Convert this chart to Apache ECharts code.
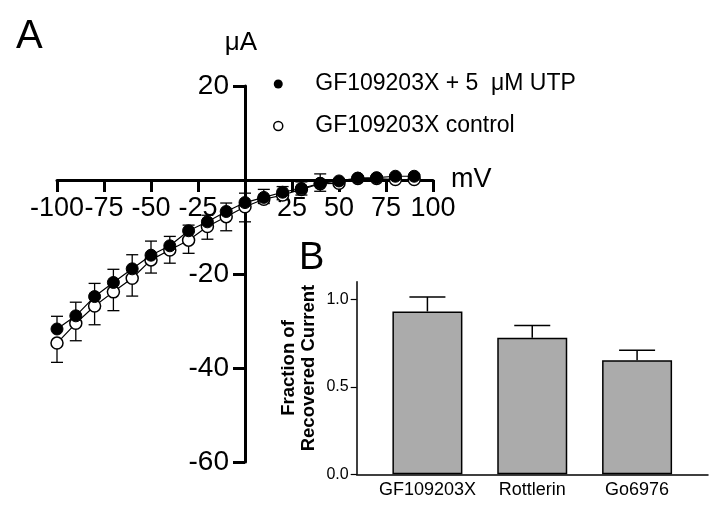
<!DOCTYPE html>
<html>
<head>
<meta charset="utf-8">
<script src="https://cdn.jsdelivr.net/npm/echarts@6/dist/echarts.min.js"></script>
<style>
html,body{margin:0;padding:0;background:#fff;}
#chart{width:720px;height:514px;}
</style>
</head>
<body>
<div id="chart"></div>
<script>
// Panel A: I-V relation
const voltages = [-100,-90,-80,-70,-60,-50,-40,-30,-20,-10,0,10,20,30,40,50,60,70,80,90];
const utpCurrent = [-31.7,-28.9,-24.8,-21.8,-18.9,-16.0,-14.0,-10.8,-8.9,-6.7,-4.8,-3.7,-2.6,-1.8,-0.7,-0.2,0.4,0.5,0.8,0.8];
const utpErr = [2.7,2.9,2.8,2.8,3.0,3.0,2.0,1.2,1.4,1.8,2.0,1.7,1.2,1.4,2.0,0.4,0.3,0.3,0.3,0.3];
const ctrlCurrent = [-34.7,-30.5,-26.8,-23.8,-20.9,-17.0,-14.9,-12.8,-9.9,-7.8,-5.7,-4.1,-3.2,-2.0,-0.8,-0.7,0.3,0.3,0.1,0.1];
const ctrlErr = [4.1,3.7,4.0,4.0,3.8,2.8,2.8,2.8,2.7,3.0,3.2,0.9,1.0,1.2,1.6,0.3,0.3,0.3,0.3,0.3];
const seriesNames = ['GF109203X + 5  \u03bcM UTP', 'GF109203X control'];
const xTicksA = [-100,-75,-50,-25,0,25,50,75,100];
const yTicksA = [-60,-40,-20,0,20];

// Panel B: recovered current
const categoriesB = ['GF109203X', 'Rottlerin', 'Go6976'];
const fractionB = [0.93, 0.78, 0.652];
const fractionErrB = [0.083, 0.07, 0.057];
const yTicksB = [0, 0.5, 1.0];

const chart = echarts.init(document.getElementById('chart'), null, {renderer: 'canvas'});
const FONT = 'Liberation Sans, Arial, sans-serif';

// Panel A grid geometry (axes cross at the origin)
const gridA = {left: 57, right: 287, top: 86, bottom: 52};
const wA = 720 - gridA.left - gridA.right, hA = 514 - gridA.top - gridA.bottom;
const xOffsetToZero = -(hA * (0 - (-60)) / (20 - (-60)));   // move x axis up to y=0
const yOffsetToZero = -(wA * (0 - (-100)) / (100 - (-100))); // move y axis right to x=0

function errRender(dir, halfWidth, lw) {
  return function (params, api) {
    const x = api.value(0), y = api.value(1), e = api.value(2);
    const p0 = api.coord([x, y]);
    const p1 = api.coord([x, y + dir * e]);
    const st = {stroke: '#000', lineWidth: lw};
    return {
      type: 'group',
      children: [
        {type: 'line', shape: {x1: p0[0], y1: p0[1], x2: p1[0], y2: p1[1]}, style: st},
        {type: 'line', shape: {x1: p1[0] - halfWidth, y1: p1[1], x2: p1[0] + halfWidth, y2: p1[1]}, style: st}
      ]
    };
  };
}

const option = {
  backgroundColor: '#fff',
  animation: false,
  textStyle: {fontFamily: FONT, color: '#000'},
  graphic: [
    {type: 'text', left: 16, top: 17, style: {text: 'A', font: '40px ' + FONT, fill: '#000'}},
    {type: 'text', left: 299, top: 240, style: {text: 'B', font: '38px ' + FONT, fill: '#000'}}
  ],
  legend: {
    left: 268, top: 67, orient: 'vertical',
    itemWidth: 64, itemHeight: 9, itemGap: 18,
    selectedMode: false,
    textStyle: {fontSize: 23, lineHeight: 24, fontFamily: FONT, color: '#000'},
    data: [
      {name: seriesNames[0], icon: 'circle', itemStyle: {color: '#000', borderWidth: 0}},
      {name: seriesNames[1], icon: 'circle', itemStyle: {color: '#fff', borderColor: '#000', borderWidth: 1.5}}
    ]
  },
  grid: [
    gridA,
    {left: 356.7, right: 12, top: 281.7, bottom: 39.7},
    {left: 375, right: 30.5, top: 281.7, bottom: 39.7}
  ],
  xAxis: [
    {
      gridIndex: 0, type: 'value', min: -100, max: 100, interval: 25,
      position: 'bottom', offset: xOffsetToZero,
      name: 'mV', nameLocation: 'end', nameGap: 18,
      nameTextStyle: {fontSize: 27, fontFamily: FONT, color: '#000', padding: [0, 0, 14, 0]},
      axisLine: {onZero: false, lineStyle: {color: '#000', width: 3}},
      axisTick: {show: true, length: 12, lineStyle: {color: '#000', width: 3}},
      axisLabel: {
        fontSize: 27, fontFamily: FONT, color: '#000', margin: 15, hideOverlap: false,
        formatter: v => (v === 0 ? '' : String(v))
      },
      splitLine: {show: false}
    },
    {
      gridIndex: 1, type: 'value', min: 0, max: 1,
      axisLine: {onZero: false, lineStyle: {color: '#000', width: 1.5}},
      axisTick: {show: false}, axisLabel: {show: false}, splitLine: {show: false}
    },
    {
      gridIndex: 2, type: 'category', data: categoriesB,
      axisLine: {show: false}, axisTick: {show: false},
      axisLabel: {fontSize: 18, fontFamily: FONT, color: '#000', margin: 7, interval: 0, hideOverlap: false}
    }
  ],
  yAxis: [
    {
      gridIndex: 0, type: 'value', min: -60, max: 20, interval: 20,
      position: 'left', offset: yOffsetToZero,
      name: '\u03bcA', nameLocation: 'end', nameGap: 30,
      nameTextStyle: {fontSize: 26, fontFamily: FONT, color: '#000', padding: [0, 8, 0, 0]},
      axisLine: {onZero: false, lineStyle: {color: '#000', width: 3}},
      axisTick: {show: true, length: 12, lineStyle: {color: '#000', width: 3}},
      axisLabel: {
        fontSize: 28, fontFamily: FONT, color: '#000', margin: 16,
        formatter: v => (v === 0 ? '' : String(v))
      },
      splitLine: {show: false}
    },
    {
      gridIndex: 1, type: 'value', min: 0, max: 1.1, interval: 0.5,
      name: 'Fraction of\nRecovered Current', nameLocation: 'middle', nameRotate: 90, nameGap: 38,
      nameTextStyle: {fontSize: 18.5, fontWeight: 'bold', lineHeight: 20, fontFamily: FONT, color: '#000', align: 'center', padding: [0, 0, 0, 20]},
      axisLine: {onZero: false, lineStyle: {color: '#000', width: 1.5}},
      axisTick: {show: true, length: 6, lineStyle: {color: '#000', width: 1.2}, customValues: yTicksB},
      axisLabel: {
        fontSize: 16, fontFamily: FONT, color: '#000', margin: 8, customValues: yTicksB,
        formatter: v => (yTicksB.some(t => Math.abs(t - v) < 1e-9) ? v.toFixed(1) : '')
      },
      splitLine: {show: false}
    },
    {gridIndex: 2, type: 'value', min: 0, max: 1.1, show: false}
  ],
  series: [
    {
      name: seriesNames[1], type: 'custom', xAxisIndex: 0, yAxisIndex: 0, z: 1,
      renderItem: errRender(-1, 6, 1.3),
      encode: {x: 0, y: 1},
      data: voltages.map((v, i) => [v, ctrlCurrent[i], ctrlErr[i]])
    },
    {
      name: seriesNames[0], type: 'custom', xAxisIndex: 0, yAxisIndex: 0, z: 1,
      renderItem: errRender(1, 6, 1.3),
      encode: {x: 0, y: 1},
      data: voltages.map((v, i) => [v, utpCurrent[i], utpErr[i]])
    },
    {
      name: seriesNames[1], type: 'line', xAxisIndex: 0, yAxisIndex: 0, z: 3,
      symbol: 'circle', symbolSize: 12,
      lineStyle: {color: '#000', width: 1.2},
      itemStyle: {color: '#fff', borderColor: '#000', borderWidth: 1.5},
      data: voltages.map((v, i) => [v, ctrlCurrent[i]])
    },
    {
      name: seriesNames[0], type: 'line', xAxisIndex: 0, yAxisIndex: 0, z: 4,
      symbol: 'circle', symbolSize: 12,
      lineStyle: {color: '#000', width: 1.2},
      itemStyle: {color: '#000', borderColor: '#000', borderWidth: 1},
      data: voltages.map((v, i) => [v, utpCurrent[i]])
    },
    {
      name: 'Fraction', type: 'bar', xAxisIndex: 2, yAxisIndex: 2, barWidth: 70,
      itemStyle: {color: '#ababab', borderColor: '#000', borderWidth: 1.5},
      data: fractionB
    },
    {
      name: 'FractionErr', type: 'custom', xAxisIndex: 2, yAxisIndex: 2, z: 1,
      renderItem: errRender(1, 18, 1.5),
      encode: {x: 0, y: 1},
      data: categoriesB.map((c, i) => [i, fractionB[i], fractionErrB[i]])
    }
  ]
};
chart.setOption(option);
</script>
</body>
</html>
